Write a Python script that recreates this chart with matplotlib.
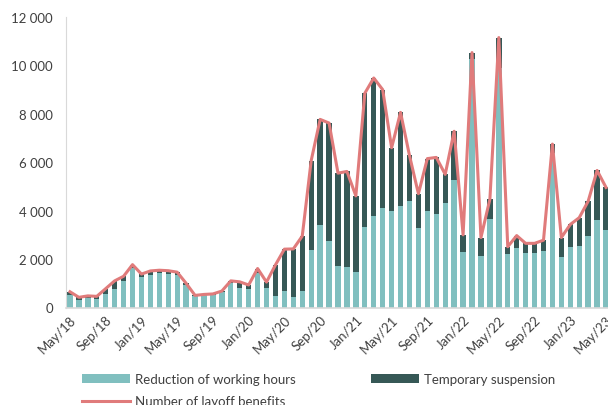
import matplotlib
matplotlib.use("Agg")
import matplotlib.pyplot as plt
import matplotlib.ticker as mticker
import matplotlib.transforms as mtransforms
import pandas as pd

# monthly data, May 2018 - May 2023
months = pd.date_range("2018-05-01", periods=61, freq="MS")
month_labels = [m.strftime("%b/%y") for m in months]

total_benefits = [650, 420, 480, 460, 780, 1100, 1290, 1770, 1380, 1510,
                  1540, 1520, 1460, 1000, 500, 540, 560, 680, 1100, 1060,
                  930, 1610, 1050, 1760, 2410, 2420, 2950, 6070, 7770, 7620,
                  5550, 5620, 4610, 8850, 9480, 9000, 6600, 8060, 6280, 4700,
                  6150, 6200, 5500, 7280, 3000, 10530, 2890, 4470, 11150, 2510,
                  2970, 2650, 2650, 2780, 6750, 2890, 3430, 3710, 4390, 5660,
                  4960]

reduction_hours = [530, 290, 380, 350, 560, 760, 1100, 1650, 1270, 1350,
                   1420, 1380, 1340, 930, 480, 510, 530, 650, 1010, 790,
                   780, 1430, 800, 490, 670, 430, 670, 2370, 3410, 2730,
                   1700, 1680, 1480, 3330, 3780, 4100, 3980, 4190, 4390, 3300,
                   4000, 3850, 4320, 5260, 2300, 10250, 2130, 3650, 9900, 2200,
                   2440, 2240, 2270, 2330, 6400, 2100, 2500, 2530, 2960, 3610,
                   3200]

temp_suspension = [t - r for t, r in zip(total_benefits, reduction_hours)]

teal = "#80bfbf"
dark = "#365856"
salmon = "#e07b7b"
grey_text = "#404040"

plt.rcParams['font.family'] = ['Lato', 'DejaVu Sans']

fig = plt.figure(figsize=(6.08, 4.06), dpi=100)
ax = fig.add_axes([65.5 / 608, 1 - 308.5 / 406, 545 / 608, 290.5 / 406])

x = list(range(len(months)))
b1 = ax.bar(x, reduction_hours, width=0.6, color=teal, label="Reduction of working hours")
b2 = ax.bar(x, temp_suspension, width=0.6, bottom=reduction_hours, color=dark,
            label="Temporary suspension")
l1, = ax.plot(x, total_benefits, color=salmon, linewidth=2.2,
              label="Number of layoff benefits")

ax.set_xlim(-0.5, 60.5)
ax.set_ylim(0, 12000)
ax.yaxis.set_major_locator(mticker.MultipleLocator(2000))
ax.yaxis.set_major_formatter(mticker.FuncFormatter(lambda v, p: f"{int(v):,}".replace(",", " ")))

ax.set_xticks(x[::4])
ax.set_xticklabels(month_labels[::4], rotation=45, ha="right", rotation_mode="anchor")
shift = mtransforms.ScaledTranslation(6 / 100, -2 / 100, fig.dpi_scale_trans)
for lab in ax.get_xticklabels():
    lab.set_transform(lab.get_transform() + shift)

for s in ["top", "right"]:
    ax.spines[s].set_visible(False)
ax.spines["left"].set_color("#d9d9d9")
ax.spines["bottom"].set_color("#d9d9d9")
ax.spines["bottom"].set_linewidth(1.2)
ax.tick_params(axis="both", length=0, labelsize=9.5, colors=grey_text)
ax.tick_params(axis="y", pad=9)
ax.tick_params(axis="x", pad=4)

fig.legend([b1, l1, b2], [b1.get_label(), l1.get_label(), b2.get_label()],
           loc="upper left", bbox_to_anchor=(82 / 608, 1 - 374 / 406), ncol=2,
           frameon=False, fontsize=9.5, handlelength=3.64, handleheight=0.68,
           columnspacing=5.7, labelspacing=0.78, labelcolor=grey_text,
           handletextpad=0.38, borderpad=0, borderaxespad=0)

fig.savefig("out.png", dpi=100)
